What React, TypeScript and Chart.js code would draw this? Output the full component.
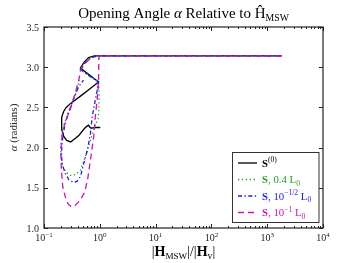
import React, { useEffect, useRef } from "react";
import { Chart, registerables } from "chart.js";
Chart.register(...registerables);

// ---- data ----
const s0X = [1.02, 0.85, 0.75, 0.7, 0.66, 0.63, 0.6, 0.55, 0.48, 0.42, 0.366, 0.3, 0.255, 0.226, 0.21, 0.205, 0.21, 0.225, 0.25, 0.3, 0.45, 0.65, 0.95, 0.45, 0.52, 0.63, 0.8, 1.0, 10, 100, 1000, 1800];
const s0Y = [2.25, 2.25, 2.245, 2.24, 2.255, 2.28, 2.27, 2.25, 2.2, 2.15, 2.115, 2.07, 2.09, 2.14, 2.22, 2.3, 2.38, 2.45, 2.5, 2.55, 2.64, 2.725, 2.815, 2.99, 3.06, 3.12, 3.14, 3.142, 3.142, 3.142, 3.142, 3.142];

const g04X = [1800, 100, 1.0, 0.8, 0.63, 0.52, 0.45, 0.65, 0.95, 0.97, 0.97, 0.96, 0.93, 0.8, 0.68, 0.55, 0.45, 0.37, 0.3, 0.25, 0.22, 0.205, 0.2, 0.205, 0.22, 0.26, 0.32, 0.38, 0.43];
const g04Y = [3.142, 3.142, 3.142, 3.135, 3.11, 3.05, 2.97, 2.89, 2.82, 2.7, 2.59, 2.45, 2.36, 2.25, 2.09, 1.89, 1.72, 1.665, 1.655, 1.69, 1.76, 1.85, 1.95, 2.1, 2.25, 2.4, 2.55, 2.7, 2.84];

const bRtX = [1800, 100, 1.0, 0.8, 0.63, 0.52, 0.45, 0.65, 0.95, 0.89, 0.83, 0.73, 0.68, 0.6, 0.515, 0.45, 0.39, 0.34, 0.28, 0.24, 0.215, 0.205, 0.21, 0.225, 0.245, 0.29, 0.34, 0.42, 0.51];
const bRtY = [3.142, 3.142, 3.142, 3.13, 3.1, 3.04, 2.97, 2.89, 2.82, 2.7, 2.59, 2.38, 2.18, 1.97, 1.8, 1.64, 1.58, 1.565, 1.6, 1.68, 1.78, 1.9, 2.05, 2.2, 2.32, 2.48, 2.61, 2.76, 2.84];

const m01X = [1800, 100, 1.0, 0.96, 0.955, 0.95, 0.895, 0.83, 0.78, 0.68, 0.61, 0.54, 0.44, 0.36, 0.307, 0.27, 0.24, 0.217, 0.205, 0.2, 0.21, 0.24, 0.3, 0.37, 0.42, 0.45, 0.55, 0.68];
const m01Y = [3.142, 3.142, 3.142, 3.11, 2.95, 2.82, 2.59, 2.38, 2.14, 1.85, 1.62, 1.45, 1.34, 1.28, 1.265, 1.3, 1.39, 1.51, 1.72, 1.95, 2.15, 2.32, 2.49, 2.7, 2.84, 2.96, 3.05, 3.11];

const yTicks = [1.0, 1.5, 2.0, 2.5, 3.0, 3.5];
const xTickExps = [-1, 0, 1, 2, 3, 4];

const COLORS = ["#000000", "#22a022", "#1a1aff", "#cc11bb"];
const DASHES: number[][] = [[], [1.3, 2.6], [4, 2.5, 1.3, 2.5], [6, 4]];

const FONT = '"Liberation Serif", "DejaVu Serif", serif';

type Seg = { t: string; bold?: boolean; italic?: boolean; scale?: number; dy?: number };

const legendRich: Seg[][] = [
  [{ t: "S", bold: true }, { t: "(0)", scale: 0.7, dy: -0.4 }],
  [{ t: "S", bold: true }, { t: ", 0.4 L" }, { t: "0", scale: 0.7, dy: 0.25 }],
  [{ t: "S", bold: true }, { t: ", 10" }, { t: "\u22121/2", scale: 0.7, dy: -0.4 }, { t: " L" }, { t: "0", scale: 0.7, dy: 0.25 }],
  [{ t: "S", bold: true }, { t: ", 10" }, { t: "\u22121", scale: 0.7, dy: -0.4 }, { t: " L" }, { t: "0", scale: 0.7, dy: 0.25 }],
];
const titleRich: Seg[] = [
  { t: "Opening Angle " }, { t: "\u03b1", italic: true }, { t: " Relative to \u0124" }, { t: "MSW", scale: 0.65, dy: 0.22 },
];
const xLabelRich: Seg[] = [
  { t: "|" }, { t: "H", bold: true }, { t: "MSW", scale: 0.65, dy: 0.22 }, { t: "|/|" }, { t: "H", bold: true }, { t: "v", scale: 0.7, dy: 0.22 }, { t: "|" },
];
const yLabelRich: Seg[] = [{ t: "\u03b1", italic: true }, { t: " (radians)" }];

function segFont(s: Seg, size: number) {
  return `${s.italic ? "italic " : ""}${s.bold ? "bold " : ""}${size * (s.scale ?? 1)}px ${FONT}`;
}
function measureRich(ctx: CanvasRenderingContext2D, segs: Seg[], size: number) {
  let w = 0;
  for (const s of segs) {
    ctx.font = segFont(s, size);
    w += ctx.measureText(s.t).width;
  }
  return w;
}
function drawRich(ctx: CanvasRenderingContext2D, segs: Seg[], x: number, y: number, size: number, align: string, color: string) {
  const w = measureRich(ctx, segs, size);
  let cx = align === "left" ? x : align === "center" ? x - w / 2 : x - w;
  ctx.textAlign = "left";
  ctx.textBaseline = "alphabetic";
  ctx.fillStyle = color;
  for (const s of segs) {
    ctx.font = segFont(s, size);
    ctx.fillText(s.t, cx, y + (s.dy ?? 0) * size);
    cx += ctx.measureText(s.t).width;
  }
}

function zip(xs: number[], ys: number[]) {
  return xs.map((x, i) => ({ x, y: ys[i] }));
}

const decor = {
  id: "decor",
  afterDatasetsDraw(chart: any) {
    const ctx: CanvasRenderingContext2D = chart.ctx;
    const { left, right, top, bottom } = chart.chartArea;
    const xs = chart.scales.x;
    const ys = chart.scales.y;
    ctx.save();
    // ticks
    ctx.strokeStyle = "#222";
    ctx.lineWidth = 1;
    ctx.beginPath();
    for (const e of xTickExps) {
      const base = Math.pow(10, e);
      const px = Math.round(xs.getPixelForValue(base)) + 0.5;
      ctx.moveTo(px, bottom); ctx.lineTo(px, bottom - 4);
      ctx.moveTo(px, top); ctx.lineTo(px, top + 4);
      if (e < 4) {
        for (let m = 2; m <= 9; m++) {
          const p2 = Math.round(xs.getPixelForValue(base * m)) + 0.5;
          ctx.moveTo(p2, bottom); ctx.lineTo(p2, bottom - 2);
          ctx.moveTo(p2, top); ctx.lineTo(p2, top + 2);
        }
      }
    }
    for (const v of yTicks) {
      const py = Math.round(ys.getPixelForValue(v)) + 0.5;
      ctx.moveTo(left, py); ctx.lineTo(left + 4, py);
      ctx.moveTo(right, py); ctx.lineTo(right - 4, py);
    }
    ctx.stroke();
    // frame
    ctx.lineWidth = 1.2;
    ctx.strokeStyle = "#222";
    ctx.strokeRect(left, top, right - left, bottom - top);

    // tick labels
    for (const v of yTicks) {
      const py = ys.getPixelForValue(v);
      drawRich(ctx, [{ t: v.toFixed(1) }], left - 5, py + 3.5, 10, "right", "#222");
    }
    for (const e of xTickExps) {
      const px = xs.getPixelForValue(Math.pow(10, e));
      const lbl = e < 0 ? "\u2212" + Math.abs(e) : String(e);
      drawRich(ctx, [{ t: "10" }, { t: lbl, scale: 0.7, dy: -0.45 }], px, bottom + 13, 10, "center", "#222");
    }
    // title
    drawRich(ctx, titleRich, (left + right) / 2, 18, 15, "center", "#000");
    // x label
    drawRich(ctx, xLabelRich, (left + right) / 2, 256, 14, "center", "#000");
    // y label
    ctx.save();
    ctx.translate(17, (top + bottom) / 2);
    ctx.rotate(-Math.PI / 2);
    drawRich(ctx, yLabelRich, 0, 0, 11, "center", "#222");
    ctx.restore();

    // legend
    const lx = 232.5, ly = 152.5, lw = 86.5, lh = 70;
    ctx.fillStyle = "#fff";
    ctx.fillRect(lx, ly, lw, lh);
    ctx.strokeStyle = "#333";
    ctx.lineWidth = 1;
    ctx.strokeRect(lx, ly, lw, lh);
    const rows = [163, 179.5, 196, 212.5];
    for (let i = 0; i < 4; i++) {
      const ry = rows[i];
      ctx.strokeStyle = COLORS[i];
      ctx.lineWidth = 1.3;
      ctx.setLineDash(DASHES[i]);
      ctx.beginPath();
      ctx.moveTo(238, ry);
      ctx.lineTo(257, ry);
      ctx.stroke();
      ctx.setLineDash([]);
      drawRich(ctx, legendRich[i], 262, ry + 3.5, 10.8, "left", COLORS[i]);
    }
    ctx.restore();
  },
};

export default function App() {
  const ref = useRef<HTMLCanvasElement | null>(null);
  useEffect(() => {
    if (!ref.current) return;
    const series = [
      { label: "S(0)", data: zip(s0X, s0Y) },
      { label: "S, 0.4 L0", data: zip(g04X, g04Y) },
      { label: "S, 10^-1/2 L0", data: zip(bRtX, bRtY) },
      { label: "S, 10^-1 L0", data: zip(m01X, m01Y) },
    ];
    const datasets = series
      .map((s, i) => ({
        label: s.label,
        data: s.data,
        showLine: true,
        borderColor: COLORS[i],
        backgroundColor: COLORS[i],
        borderWidth: 1.3,
        borderDash: DASHES[i],
        pointRadius: 0,
        fill: false,
        tension: 0,
      }))
      .reverse();
    const chart = new Chart(ref.current, {
      type: "scatter",
      data: { datasets },
      options: {
        responsive: false,
        animation: false,
        layout: { padding: { left: 44, right: 27, top: 27, bottom: 35 } },
        scales: {
          x: { type: "logarithmic", min: 0.1, max: 10000, display: false },
          y: { type: "linear", min: 1, max: 3.5, display: false },
        },
        plugins: { legend: { display: false }, title: { display: false }, tooltip: { enabled: false } },
      },
      plugins: [decor],
    } as any);
    return () => chart.destroy();
  }, []);
  return (
    <div style={{ position: "fixed", left: 0, top: 0, width: 350, height: 263, background: "#fff" }}>
      <canvas ref={ref} width={350} height={263} style={{ width: 350, height: 263 }} />
    </div>
  );
}
